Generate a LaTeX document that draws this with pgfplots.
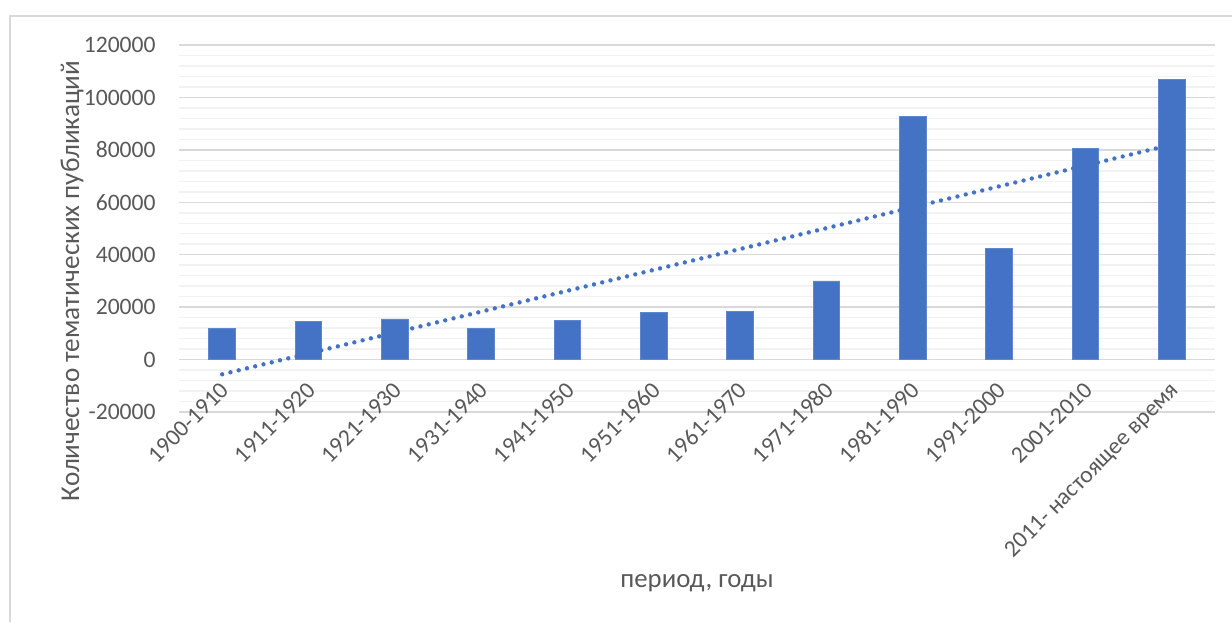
\documentclass[border=0pt]{standalone}
\usepackage{pgfplots}
\usepackage{pgfplotstable}
\pgfplotsset{compat=1.18}
\usepackage{fontspec}
\setmainfont{Carlito}

\definecolor{barblue}{HTML}{4472C4}
\definecolor{txt}{HTML}{595959}
\definecolor{gridmaj}{HTML}{D9D9D9}
\definecolor{gridmin}{HTML}{F2F2F2}

% number of thematic publications per period
\pgfplotstableread{
x y
1 12000
2 14500
3 15500
4 12000
5 15000
6 18000
7 18500
8 30000
9 92600
10 42500
11 80700
12 107000
}\pubdata

\begin{document}
\begin{tikzpicture}
\useasboundingbox (0,0) rectangle (616pt,311pt);
% chart area frame
\draw[gridmaj, line width=0.75pt] (5pt,0pt) -- (5pt,303pt) -- (616pt,303pt);
\begin{axis}[
  at={(89.5pt,105pt)}, anchor=south west, scale only axis,
  width=518pt, height=183.5pt,
  xmin=0.5, xmax=12.5, ymin=-20000, ymax=120000,
  ytick={-20000,0,20000,40000,60000,80000,100000,120000},
  minor y tick num=4,
  ymajorgrids, yminorgrids,
  major grid style={gridmaj, line width=0.75pt},
  minor grid style={gridmin, line width=0.75pt},
  axis line style={draw=none},
  major tick length=0pt, minor tick length=0pt,
  xtick={1,...,12},
  xticklabels={1900-1910,1911-1920,1921-1930,1931-1940,1941-1950,1951-1960,1961-1970,1971-1980,1981-1990,1991-2000,2001-2010,2011- настоящее время},
  scaled y ticks=false,
  /pgf/number format/assume math mode=true,
  /pgf/number format/fixed,
  /pgf/number format/1000 sep={},
  tick label style={font=\fontsize{11.8}{14}\selectfont, text=txt},
  yticklabel style={anchor=east, inner sep=0pt},
  yticklabel shift=11.5pt,
  xticklabel style={inner sep=0pt, text height=7.5pt, text depth=0pt, xshift=1.5pt, rotate=45, anchor=east},
  xticklabel shift=-13pt,
  clip=false,
]
\addplot[ybar, bar width=0.31, fill=barblue, draw=barblue!85!white, line width=0.4pt] table[x=x, y=y] {\pubdata};
% linear trend
\addplot[barblue, line width=2.2pt, line cap=round, dash pattern=on 0pt off 4.25pt, mark=none]
  table[x=x, y={create col/linear regression={y=y}}] {\pubdata};
\end{axis}
\node[rotate=90, text=txt, font=\fontsize{13.6}{16}\selectfont] at (36pt,170.5pt) {Количество тематических публикаций};
\node[text=txt, font=\fontsize{13.4}{16}\selectfont] at (348.5pt,19.5pt) {период, годы};
\end{tikzpicture}
\end{document}
